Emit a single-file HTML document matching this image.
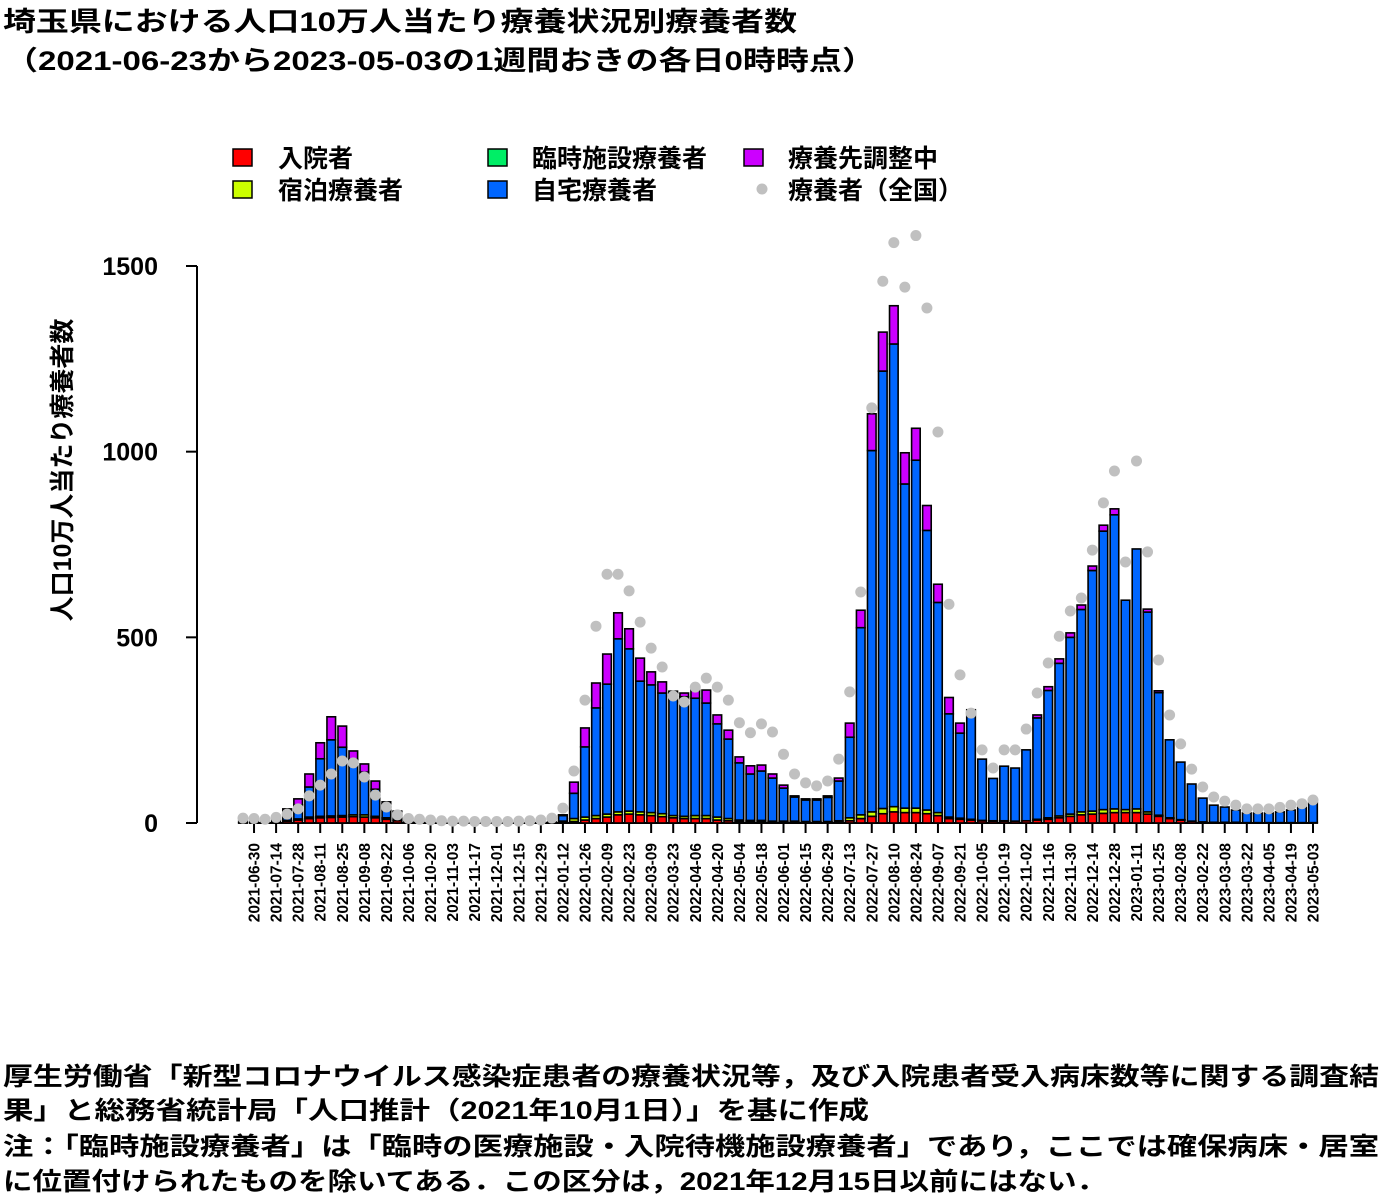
<!DOCTYPE html>
<html><head><meta charset="utf-8"><style>
body{margin:0;background:#fff;}
svg{display:block;font-family:"Liberation Sans","Noto Sans CJK JP",sans-serif;font-weight:bold;}
</style></head><body>
<svg id="chart" width="1400" height="1200" viewBox="0 0 1400 1200">
<text x="3" y="31" font-size="27" textLength="794" lengthAdjust="spacingAndGlyphs">埼玉県における人口10万人当たり療養状況別療養者数</text>
<text x="5" y="70" font-size="27" textLength="870" lengthAdjust="spacingAndGlyphs">（2021-06-23から2023-05-03の1週間おきの各日0時時点）</text>
<g id="legend" font-size="25">
<g><rect x="233" y="149" width="19" height="17" fill="#ff0000" stroke="#000" stroke-width="1.5"/><text x="278" y="167">入院者</text></g>
<g><rect x="233" y="181" width="19" height="17" fill="#ccff00" stroke="#000" stroke-width="1.5"/><text x="278" y="199">宿泊療養者</text></g>
<g><rect x="488" y="149" width="19" height="17" fill="#00ee66" stroke="#000" stroke-width="1.5"/><text x="532" y="167">臨時施設療養者</text></g>
<g><rect x="488" y="181" width="19" height="17" fill="#0066ff" stroke="#000" stroke-width="1.5"/><text x="532" y="199">自宅療養者</text></g>
<g><rect x="744" y="149" width="19" height="17" fill="#cc00ff" stroke="#000" stroke-width="1.5"/><text x="788" y="167">療養先調整中</text></g>
<g><circle cx="762" cy="189" r="5.5" fill="#c0c0c0"/><text x="788" y="199">療養者（全国）</text></g>
</g>
<text transform="translate(71,470) rotate(-90)" text-anchor="middle" font-size="25">人口10万人当たり療養者数</text>
<g id="yaxis"></g>
<g id="xaxis"></g>
<g id="bars"></g>
<g id="dots"></g>
<g font-size="25">
<text x="3" y="1085" textLength="1376" lengthAdjust="spacingAndGlyphs">厚生労働省「新型コロナウイルス感染症患者の療養状況等，及び入院患者受入病床数等に関する調査結</text>
<text x="3" y="1119" textLength="866" lengthAdjust="spacingAndGlyphs">果」と総務省統計局「人口推計（2021年10月1日）」を基に作成</text>
<text x="3" y="1155" textLength="1376" lengthAdjust="spacingAndGlyphs">注：「臨時施設療養者」は「臨時の医療施設・入院待機施設療養者」であり，ここでは確保病床・居室</text>
<text x="3" y="1190" textLength="1103" lengthAdjust="spacingAndGlyphs">に位置付けられたものを除いてある．この区分は，2021年12月15日以前にはない．</text>
</g>
</svg>
<script>
const startDate = "2021-06-23";
const hospital = [1,1,1,1,5,8,12,14,15,16,17,16,14,10,6,3,2,1,1,1,1,1,1,1,1,1,1,1,1,2,4,8,12,16,22,24,22,20,17,14,12,12,12,8,6,4,4,4,3,3,3,3,3,3,4,6,12,18,25,30,28,28,25,20,12,10,8,6,5,5,5,6,8,10,14,18,22,24,26,28,28,28,24,18,12,8,5,3,2,2,2,1,1,1,1,1,1,1];
const hotel = [0,0,0,0,2,3,4,4,4,4,5,6,4,4,2,1,0,0,0,0,0,0,0,0,0,0,0,0,0,3,8,8,8,8,8,8,8,8,8,6,6,8,8,8,6,4,3,3,2,2,2,1,1,1,2,8,10,12,14,14,12,12,10,8,4,3,2,1,1,1,0,0,2,4,5,6,8,8,10,10,8,10,6,3,2,1,0,0,0,0,0,0,0,0,0,0,0,0];
const temporary = [0,0,0,0,0,0,0,0,0,0,0,0,0,0,0,0,0,0,0,0,0,0,0,0,0,0,0,0,0,0,0,0,0,0,0,0,0,0,0,0,0,0,0,0,0,0,0,0,0,0,0,0,0,0,0,0,0,0,0,0,0,0,0,0,0,0,0,0,0,0,0,0,0,0,0,0,0,0,0,0,0,0,0,0,0,0,0,0,0,0,0,0,0,0,0,0,0,0];
const home = [4,4,7,9,26,38,81,155,205,184,150,115,73,38,22,8,4,2,2,2,2,2,2,2,2,2,2,2,2,15,68,189,290,350,466,437,352,344,325,330,322,316,303,251,214,154,125,133,116,89,65,58,58,65,107,217,504,973,1178,1246,873,937,753,566,278,229,295,165,114,147,143,191,273,343,411,476,545,648,750,792,564,700,538,330,210,155,100,64,46,41,33,26,26,26,29,34,41,54];
const adjusting = [0,0,0,0,5,16,35,43,62,57,22,22,22,5,2,0,0,0,0,0,0,0,0,0,0,0,0,0,0,2,30,51,67,81,70,54,62,35,30,5,10,22,35,24,24,16,22,16,11,8,3,3,3,4,8,38,47,99,105,103,84,86,67,49,44,27,0,0,0,0,0,0,8,10,12,12,12,12,16,16,0,0,8,5,0,0,0,0,0,0,0,0,0,0,0,0,0,0];
const national = [13,12,10,15,24,38,73,102,132,167,162,124,75,43,22,12,10,8,6,5,5,4,4,4,4,5,6,8,13,40,140,331,530,670,670,625,541,471,420,342,326,366,390,366,331,270,243,267,245,185,132,108,100,113,172,353,622,1118,1459,1563,1443,1582,1387,1053,589,399,296,197,148,197,197,253,350,431,503,571,606,735,862,948,703,975,730,439,291,213,145,97,70,59,48,38,38,38,42,48,52,62];
const yTicks = [0,500,1000,1500];

const NS="http://www.w3.org/2000/svg";
const x0=243, x1=1313, yBase=823, yTop=266, yMax=1500;
const n=home.length;
const xScale=i=>x0+(x1-x0)*i/(n-1);
const yScale=v=>yBase-(yBase-yTop)*v/yMax;
function mk(tag,attrs,parent){const e=document.createElementNS(NS,tag);for(const k in attrs)e.setAttribute(k,attrs[k]);parent.appendChild(e);return e;}
function dateLabel(i){const d=new Date(startDate+"T00:00:00Z");d.setUTCDate(d.getUTCDate()+7*i);return d.toISOString().slice(0,10);}

const ya=document.getElementById('yaxis');
mk('line',{x1:197,x2:197,y1:yScale(yTicks[yTicks.length-1]),y2:yScale(yTicks[0]),stroke:'#000','stroke-width':2},ya);
yTicks.forEach(t=>{
  mk('line',{x1:186,x2:197,y1:yScale(t),y2:yScale(t),stroke:'#000','stroke-width':2},ya);
  const tx=mk('text',{x:158,y:yScale(t)+9,'text-anchor':'end','font-size':25},ya);
  tx.textContent=t;
  
  
});

const xa=document.getElementById('xaxis');
mk('line',{x1:xScale(1),x2:xScale(n-1),y1:yBase,y2:yBase,stroke:'#000','stroke-width':2},xa);
for(let i=1;i<n;i+=2){
  const x=xScale(i);
  mk('line',{x1:x,x2:x,y1:yBase,y2:yBase+10,stroke:'#000','stroke-width':2},xa);
  const tx=mk('text',{transform:`translate(${x+5.5},843) rotate(-90)`,'text-anchor':'end','font-size':15.5},xa);
  tx.textContent=dateLabel(i);
  
  
}

const series=[[hospital,'#ff0000','hospital'],[hotel,'#ccff00','hotel'],[temporary,'#00ee66','temporary'],[home,'#0066ff','home'],[adjusting,'#cc00ff','adjusting']];
const bg=document.getElementById('bars');
const bw=8.6;
for(let i=0;i<n;i++){
  let cum=0;
  series.forEach(([arr,col,nm])=>{
    const v=arr[i];
    if(v<=0)return;
    const yt=yScale(cum+v), yb=yScale(cum);
    const r=mk('rect',{x:xScale(i)-bw/2,y:yt,width:bw,height:Math.max(yb-yt,0.5),fill:col,stroke:'#000','stroke-width':1.6},bg);
    
    
    cum+=v;
  });
}
const dg=document.getElementById('dots');
national.forEach((v,i)=>{
  const c=mk('circle',{cx:xScale(i),cy:yScale(v),r:5.5,fill:'#c0c0c0'},dg);
  
  
});
</script>
</body></html>
